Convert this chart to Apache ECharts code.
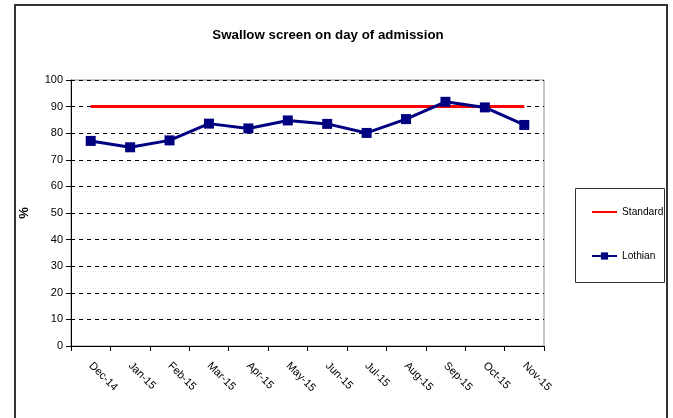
<!DOCTYPE html>
<html><head><meta charset="utf-8">
<script src="https://cdn.jsdelivr.net/npm/echarts@6/dist/echarts.min.js"></script>
<style>html,body{margin:0;padding:0;background:#fff}#c{width:673px;height:418px}</style>
</head><body><div id="c"></div>
<script>
const categories = ['Dec-14','Jan-15','Feb-15','Mar-15','Apr-15','May-15','Jun-15','Jul-15','Aug-15','Sep-15','Oct-15','Nov-15'];
const standard = [90,90,90,90,90,90,90,90,90,90,90,90];
const lothian = [77.1,74.7,77.3,83.6,81.8,84.8,83.5,80.1,85.3,91.8,89.7,83.1];
const yTicks = {min:0, max:100, interval:10};

const chart = echarts.init(document.getElementById('c'));
const font = 'Liberation Sans, Arial, sans-serif';
chart.setOption({
  animation:false,
  backgroundColor:'#fff',
  title:{text:'Swallow screen on day of admission', left:323, textAlign:'center', top:24,
    textStyle:{fontFamily:font, fontSize:13.3, fontWeight:'bold', color:'#000'}},
  grid:{left:71, right:129, top:80, bottom:72, show:true, borderColor:'#909090', borderWidth:1},
  graphic:[
    {type:'rect', shape:{x:15,y:5,width:652,height:430}, style:{fill:'none', stroke:'#333', lineWidth:2}, z:-1},
    {type:'rect', shape:{x:575.5,y:188.5,width:89,height:94}, style:{fill:'#fff', stroke:'#333', lineWidth:1}, z:0}
  ],
  legend:{orient:'vertical', left:586, top:202, itemGap:34, itemWidth:25, itemHeight:9, z:5,
    textStyle:{fontFamily:font, fontSize:10.2, color:'#000'},
    data:[{name:'Standard', itemStyle:{opacity:0}},{name:'Lothian'}]},
  xAxis:{type:'category', data:categories, boundaryGap:true,
    axisLine:{lineStyle:{color:'#000', width:1}},
    axisTick:{show:true, length:5, lineStyle:{color:'#000'}},
    axisLabel:{rotate:-45, margin:18, fontFamily:font, fontSize:11, color:'#000'}},
  yAxis:{type:'value', min:yTicks.min, max:yTicks.max, interval:yTicks.interval,
    name:'%', nameLocation:'middle', nameGap:40, nameRotate:90,
    nameTextStyle:{fontFamily:font, fontSize:13, fontWeight:'bold', color:'#000'},
    axisLine:{show:true, lineStyle:{color:'#000', width:1}},
    axisTick:{show:true, length:5, lineStyle:{color:'#000'}},
    axisLabel:{fontFamily:font, fontSize:11, color:'#000', margin:8},
    splitLine:{show:true, lineStyle:{color:'#000', type:[4,4], width:1}}},
  series:[
    {name:'Standard', type:'line', data:standard, symbol:'none', showSymbol:false,
      lineStyle:{color:'#ff0000', width:3}, itemStyle:{color:'#ff0000'}, z:3},
    {name:'Lothian', type:'line', data:lothian, symbol:'rect', symbolSize:10,
      lineStyle:{color:'#000080', width:3}, itemStyle:{color:'#000080'}, z:4}
  ]
});
</script></body></html>
